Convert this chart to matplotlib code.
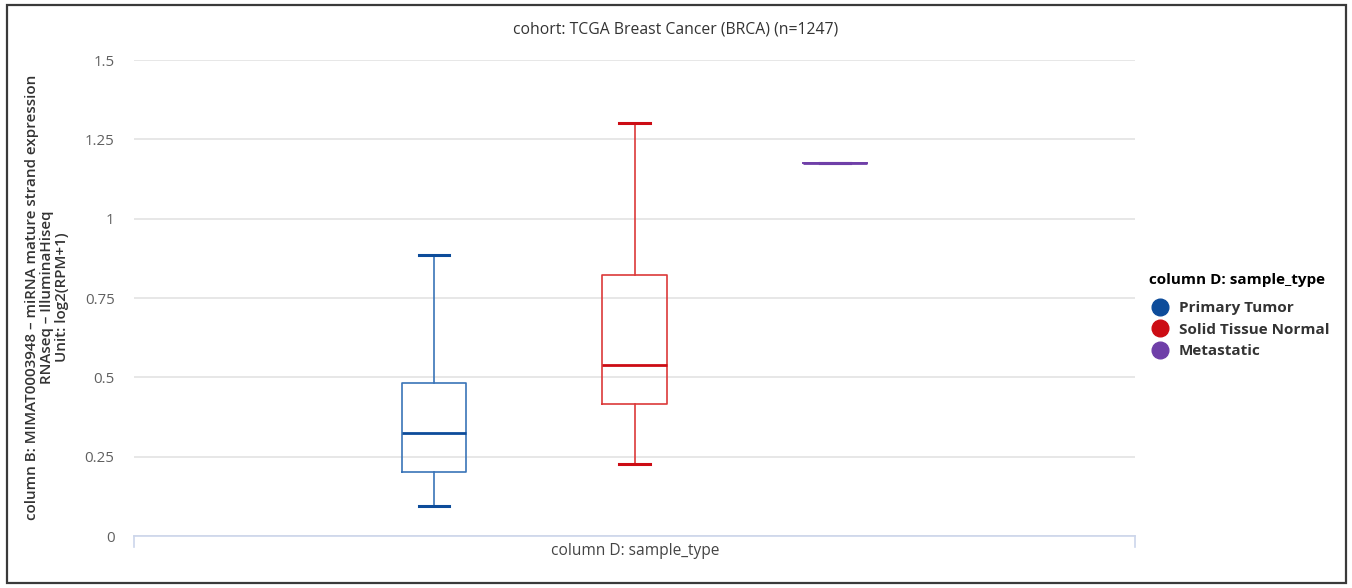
import matplotlib
matplotlib.use("Agg")
import matplotlib.pyplot as plt
from matplotlib.patches import Rectangle
from matplotlib.lines import Line2D

plt.rcParams['font.family'] = ['Open Sans', 'DejaVu Sans']

# Box statistics per sample type
sample_types = ["Primary Tumor", "Solid Tissue Normal", "Metastatic"]
whisker_low = [0.095, 0.226, 1.175]
q1 = [0.201, 0.416, 1.175]
median = [0.326, 0.539, 1.175]
q3 = [0.481, 0.824, 1.175]
whisker_high = [0.885, 1.301, 1.175]
colors = ["#0d4c9a", "#cc0c14", "#6f3fa8"]
line_colors = ["#3a74b8", "#dc3a3a", "#7a4ab0"]

yticks = [0, 0.25, 0.5, 0.75, 1, 1.25, 1.5]
ytick_labels = ["0", "0.25", "0.5", "0.75", "1", "1.25", "1.5"]

title = "cohort: TCGA Breast Cancer (BRCA) (n=1247)"
ylabel = ("column B: MIMAT0003948 \u2013 miRNA mature strand expression\n"
          "RNAseq \u2013 IlluminaHiseq\n"
          "Unit: log2(RPM+1)")
xlabel = "column D: sample_type"
legend_title = "column D: sample_type"

W, H = 1352, 588
fig = plt.figure(figsize=(W / 100, H / 100), dpi=100)
ax = fig.add_axes([134 / W, 1 - 536 / H, (1135 - 134) / W, (536 - 60) / H])

positions = [-0.2, 0.0, 0.2]
for i, name in enumerate(sample_types):
    stats = [dict(med=median[i], q1=q1[i], q3=q3[i],
                  whislo=whisker_low[i], whishi=whisker_high[i], fliers=[])]
    c = colors[i]
    lc = line_colors[i]
    ax.bxp(stats, positions=[positions[i]], widths=0.064, capwidths=0.03,
           showfliers=False, patch_artist=False,
           boxprops=dict(color=lc, linewidth=1.2),
           whiskerprops=dict(color=lc, linewidth=1.2),
           capprops=dict(color=c, linewidth=2.2),
           medianprops=dict(color=c, linewidth=2.0),
           manage_ticks=False)

ax.set_xlim(-0.5, 0.5)
ax.set_ylim(0, 1.5)
ax.set_yticks(yticks)
ax.set_yticklabels(ytick_labels)
ax.set_xticks([])
ax.tick_params(axis='y', length=0, pad=14, labelsize=10.8, labelcolor="#606060")
ax.yaxis.grid(True, color="#e3e3e3", linewidth=1.2)
ax.set_axisbelow(True)
for side in ["top", "right", "left"]:
    ax.spines[side].set_visible(False)
ax.spines["bottom"].set_color("#ccd6eb")
ax.spines["bottom"].set_linewidth(1.2)

# category tick marks at both ends of the x axis
for xp in (0.0, 1.0):
    ax.add_line(Line2D([xp, xp], [0, -11 / 476], transform=ax.transAxes,
                       color="#ccd6eb", linewidth=1.2, clip_on=False))

fig.text(676 / W, 1 - 30 / H, title, ha="center", va="center",
         fontsize=11.3, color="#333333")
fig.text(635 / W, 1 - 551 / H, xlabel, ha="center", va="center",
         fontsize=11.2, color="#444444")
fig.text(47 / W, 1 - 297 / H, ylabel, ha="center", va="center",
         rotation=90, fontsize=10.9, color="#333333", linespacing=1.1,
         fontweight="semibold")

# legend
handles = [Line2D([], [], linestyle="none", marker="o", markersize=12,
                  markerfacecolor=c, markeredgecolor=c) for c in colors]
leg = fig.legend(handles, sample_types, title=legend_title,
                 loc="upper left", bbox_to_anchor=(1149 / W, 1 - 273 / H),
                 frameon=False, handletextpad=0.45, handlelength=1.5,
                 labelspacing=0.5, borderaxespad=0, borderpad=0,
                 prop=dict(size=11, weight="bold"),
                 title_fontproperties=dict(size=11, weight="bold"))
leg._legend_box.align = "left"
leg._legend_box.sep = 10
for t in leg.get_texts():
    t.set_color("#333333")

# outer frame
fig.add_artist(Rectangle((7 / W, 5 / H), (1346 - 7) / W, (583 - 5) / H,
                         transform=fig.transFigure, fill=False,
                         edgecolor="#3a3a3a", linewidth=1.6))

fig.savefig("out.png", dpi=100)
